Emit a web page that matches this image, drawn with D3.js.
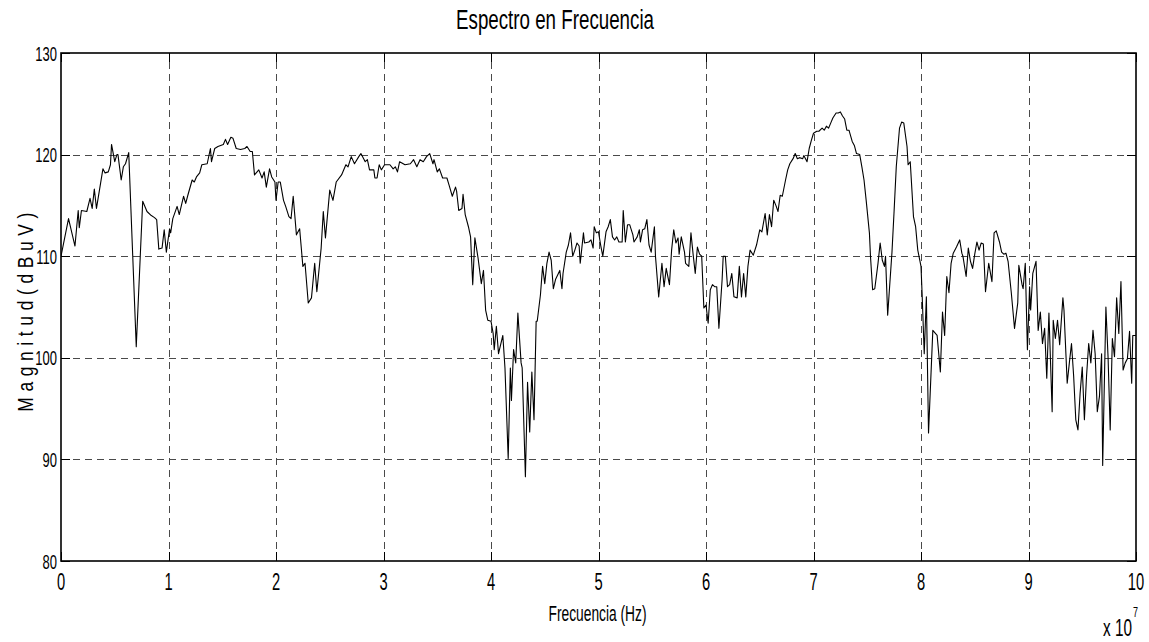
<!DOCTYPE html>
<html>
<head>
<meta charset="utf-8">
<script src="https://cdn.jsdelivr.net/npm/d3@7"></script>
<style>
  body { margin: 0; background: #fff; }
  svg { display: block; }
  text { font-family: "Liberation Sans", Arial, sans-serif; fill: #000; }
</style>
</head>
<body>
<svg id="chart" width="1149" height="642"></svg>
<script>
// Measured spectrum: frequency in MHz and magnitude in dBuV
const freqMHz = [
  0,0.7,1.3,1.6,1.7,1.9,2.4,2.7,2.9,3.1,
  3.3,3.9,4.1,4.4,4.6,4.7,5.0,5.2,5.3,5.6,
  5.8,6.0,6.3,7.0,7.6,8.0,8.4,8.7,8.9,9.1,
  9.4,9.6,9.8,10.1,10.2,10.4,10.8,11.0,11.4,11.6,
  11.8,12.2,12.4,12.6,12.9,13.1,13.6,13.9,14.0,14.3,
  14.6,15.1,15.3,15.5,15.8,16.0,16.3,16.7,17.1,17.3,
  17.6,17.8,18.0,18.4,18.7,18.9,19.1,19.4,19.6,19.9,
  20.0,20.2,20.4,20.7,20.9,21.2,21.4,21.6,21.9,22.2,
  22.5,22.7,23.0,23.3,23.6,23.8,24.2,24.4,24.6,25.0,
  25.3,25.6,26.1,26.5,26.7,27.0,27.3,27.7,27.9,28.3,
  28.5,28.7,29.1,29.2,29.4,29.6,29.8,30.1,30.6,30.9,
  31.1,31.3,31.5,32.0,32.5,32.8,33.1,33.4,33.7,34.0,
  34.3,34.6,34.7,35.0,35.2,35.5,35.9,36.1,36.4,36.7,
  36.8,37.0,37.3,37.4,37.6,37.9,38.1,38.3,38.5,38.8,
  39.1,39.3,39.5,39.7,40.0,40.2,40.3,40.5,40.7,41.1,
  41.3,41.6,41.8,41.9,42.1,42.3,42.5,42.8,42.9,43.2,
  43.4,43.6,43.8,44.0,44.2,44.3,44.6,44.8,45.0,45.2,
  45.4,45.6,45.8,46.0,46.4,46.6,46.7,47.0,47.2,47.4,
  47.6,47.8,48.0,48.2,48.3,48.6,48.7,49.1,49.3,49.5,
  49.6,49.8,50.0,50.2,50.4,50.7,50.9,51.1,51.3,51.5,
  51.7,51.9,52.2,52.3,52.5,52.7,52.9,53.2,53.3,53.6,
  53.8,53.9,54.1,54.3,54.5,54.7,54.9,55.2,55.3,55.6,
  55.9,56.1,56.3,56.6,56.8,57.0,57.2,57.4,57.5,57.7,
  58.0,58.1,58.4,58.6,58.8,59.0,59.2,59.4,59.6,59.8,
  60.0,60.2,60.4,60.6,60.8,61.0,61.2,61.5,61.6,61.8,
  62.0,62.2,62.4,62.6,62.9,63.1,63.3,63.5,63.7,63.9,
  64.1,64.4,64.7,65.0,65.2,65.5,65.7,65.9,66.1,66.3,
  66.5,66.7,66.9,67.1,67.4,67.6,67.8,68.1,68.3,68.5,
  68.7,69.0,69.1,69.4,69.6,69.8,70.0,70.3,70.5,70.8,
  71.0,71.2,71.4,71.6,71.8,72.1,72.3,72.5,72.7,72.9,
  73.1,73.3,73.6,73.8,74.0,74.3,74.5,74.7,74.9,75.2,
  75.3,75.5,75.7,76.0,76.2,76.4,76.6,76.7,76.9,77.3,
  77.5,77.7,78.0,78.2,78.4,78.7,78.8,79.0,79.3,79.5,
  79.7,80.0,80.1,80.3,80.5,80.7,81.1,81.5,81.8,82.0,
  82.2,82.4,82.6,82.8,83.0,83.3,83.6,83.8,83.9,84.2,
  84.4,84.6,84.8,85.0,85.2,85.4,85.6,85.8,86.0,86.3,
  86.6,86.8,87.0,87.3,87.5,87.7,87.9,88.1,88.4,88.7,
  89.0,89.1,89.4,89.5,89.7,89.9,90.1,90.2,90.4,90.7,
  90.9,91.1,91.3,91.5,91.7,91.9,92.2,92.3,92.5,92.7,
  92.9,93.2,93.3,93.6,93.8,94.0,94.2,94.4,94.6,94.8,
  95.0,95.2,95.4,95.6,95.8,96.0,96.2,96.4,96.6,96.8,
  96.9,97.2,97.4,97.6,97.8,98.0,98.2,98.4,98.6,98.8,
  99.0,99.2,99.4,99.6,99.7,100.0
];

const magnitudeDbuV = [
  110.0,113.7,111.0,114.5,112.8,114.5,114.4,115.7,114.7,116.6,
  114.7,118.6,118.2,118.3,119.0,121.0,119.3,120.0,120.0,117.5,
  118.8,119.1,120.2,101.1,115.4,114.4,114.0,113.8,113.6,110.7,
  110.8,112.6,110.4,112.7,112.3,113.7,114.9,114.1,115.9,115.2,
  116.0,117.5,117.3,117.8,118.2,119.0,119.1,120.6,119.3,120.6,
  120.8,121.0,121.5,121.0,121.7,121.6,120.6,120.5,120.6,120.8,
  120.3,120.3,118.0,118.5,117.7,118.3,116.8,118.6,117.8,117.3,
  115.5,117.3,117.3,115.5,114.9,113.9,113.7,115.9,112.1,112.7,
  109.0,109.3,105.4,105.9,109.3,106.5,110.8,114.4,111.8,116.5,
  115.5,117.3,118.0,119.0,118.8,119.8,119.1,119.8,120.1,119.3,
  119.5,118.5,118.5,117.7,117.7,119.0,118.5,119.0,119.0,118.6,
  118.8,118.3,119.3,119.0,119.1,119.5,118.8,119.5,119.3,119.8,
  120.1,119.1,119.5,118.3,118.6,117.7,117.7,117.0,115.9,116.8,
  116.4,114.5,114.7,116.1,114.1,112.9,111.9,107.2,111.8,109.8,
  107.3,108.6,104.7,103.7,103.6,102.4,100.8,103.1,100.4,102.2,
  99.0,90.1,99.0,95.8,100.8,99.5,104.4,99.5,99.0,88.3,
  97.6,92.7,98.6,93.9,103.6,103.6,106.2,109.0,107.3,109.3,
  110.4,109.6,106.8,107.7,108.6,106.8,108.3,110.4,111.1,112.3,
  110.0,110.6,111.3,111.0,109.3,112.3,111.3,111.4,111.6,110.8,
  112.9,112.3,112.4,111.1,110.0,112.4,112.9,113.6,111.9,111.6,
  111.9,111.4,111.4,114.5,111.4,113.1,113.1,112.1,111.4,111.9,
  112.6,111.4,112.6,112.7,113.6,111.1,110.4,112.9,110.0,106.0,
  109.3,107.0,108.8,107.2,110.6,112.6,111.3,111.8,110.2,111.9,
  110.4,109.3,109.0,112.3,110.2,108.3,110.9,110.2,110.0,104.9,
  105.2,103.4,106.7,107.2,107.0,107.0,102.9,107.7,110.0,110.0,
  107.0,107.2,108.3,106.0,105.9,109.0,106.0,108.3,106.0,109.0,
  110.6,110.1,111.1,112.6,112.4,114.2,112.1,114.1,112.9,115.5,
  115.0,114.4,116.0,115.9,117.5,118.5,119.1,119.6,120.1,119.6,
  119.7,119.6,119.9,119.3,120.6,121.4,122.1,122.3,122.3,122.6,
  122.4,122.8,122.6,123.1,123.6,124.1,124.1,124.2,123.8,123.5,
  122.4,122.4,121.3,120.9,120.1,120.0,118.8,117.5,115.5,112.3,
  110.0,106.7,106.8,109.3,111.3,109.6,109.0,110.0,104.2,110.4,
  114.5,118.8,122.6,123.2,123.1,120.8,119.0,119.3,113.9,112.9,
  110.6,109.0,106.4,100.4,106.0,92.6,102.7,102.2,98.6,104.5,
  102.2,108.0,106.4,109.3,110.3,110.9,111.6,110.3,110.0,108.0,
  110.8,109.5,108.8,110.2,111.4,110.6,111.3,111.2,106.5,109.3,
  107.5,112.3,112.5,111.4,110.4,110.2,110.3,109.5,106.4,102.9,
  105.4,109.1,107.2,106.8,109.3,100.8,107.0,104.7,108.3,109.5,
  102.7,104.5,101.4,102.9,98.0,104.4,94.7,103.7,101.9,103.7,
  101.3,105.9,104.7,97.5,99.5,101.4,98.2,93.9,92.9,96.5,
  99.1,93.9,98.2,101.4,99.5,102.7,100.4,94.7,96.2,100.4,
  89.4,105.0,100.1,92.9,101.9,100.1,105.9,102.4,107.5,98.8,
  99.5,99.9,102.6,97.5,102.2,102.2
];

// Axis ticks (x in MHz, labelled in units of 10^7 Hz)
const xTickValues = [0, 10, 20, 30, 40, 50, 60, 70, 80, 90, 100];
const xTickLabels = ["0", "1", "2", "3", "4", "5", "6", "7", "8", "9", "10"];
const yTickValues = [80, 90, 100, 110, 120, 130];
const yTickLabels = ["80", "90", "100", "110", "120", "130"];

const titleText = "Espectro en Frecuencia";
const xLabelText = "Frecuencia (Hz)";
const yLabelText = "M a g n i t u d  ( d B u V )";
const xExponentBase = "x 10";
const xExponent = "7";

const W = 1149, H = 642;
const margin = { top: 53, right: 13, bottom: 81, left: 61 };
const innerW = W - margin.left - margin.right;
const innerH = H - margin.top - margin.bottom;

const svg = d3.select("#chart");

const x = d3.scaleLinear().domain([0, 100]).range([margin.left, W - margin.right]);
const y = d3.scaleLinear().domain([80, 130]).range([H - margin.bottom, margin.top]);

// Condensed text: font size sets the glyph height, horizontal scale sets the width.
// With `spread`, glyph scale is fixed and letter spacing fills the target width.
const CAP = 0.716;
function condensedText(str, opts) {
  const fs = opts.cap / CAP;
  const t = svg.append("text")
    .attr("font-size", fs)
    .attr("text-anchor", opts.anchor || "start")
    .text(str);
  let sx = opts.sx || 1;
  const natural = t.node().getComputedTextLength();
  if (opts.width && opts.spread) {
    const ls = (opts.width / sx - natural) / str.length;
    t.attr("letter-spacing", ls);
  } else if (opts.width) {
    sx = opts.width / natural;
  }
  const rot = opts.rotate ? ` rotate(${opts.rotate})` : "";
  t.attr("transform", `translate(${opts.x},${opts.y})${rot} scale(${sx},1)`);
  return t;
}

// Dashed grid on interior ticks
const gridX = xTickValues.filter(v => v > 0 && v < 100);
const gridY = yTickValues.filter(v => v > 80 && v < 130);

const grid = svg.append("g").attr("class", "grid");
grid.append("g")
  .attr("transform", `translate(0,${H - margin.bottom})`)
  .call(d3.axisBottom(x).tickValues(gridX).tickSize(-innerH).tickFormat(""))
  .call(g => g.select(".domain").remove());
grid.append("g")
  .attr("transform", `translate(${margin.left},0)`)
  .call(d3.axisLeft(y).tickValues(gridY).tickSize(-innerW).tickFormat(""))
  .call(g => g.select(".domain").remove());
grid.selectAll("line")
  .attr("stroke", "#4a4a4a")
  .attr("stroke-width", 1)
  .attr("stroke-dasharray", "7,5")
  .attr("shape-rendering", "crispEdges");

// Spectrum trace
svg.append("clipPath").attr("id", "plotClip")
  .append("rect")
  .attr("x", margin.left).attr("y", margin.top)
  .attr("width", innerW).attr("height", innerH);

const points = freqMHz.map((f, i) => [f, magnitudeDbuV[i]]);
const line = d3.line().x(d => x(d[0])).y(d => y(d[1]));

svg.append("path")
  .datum(points)
  .attr("clip-path", "url(#plotClip)")
  .attr("fill", "none")
  .attr("stroke", "#000")
  .attr("stroke-width", 1.1)
  .attr("stroke-linejoin", "round")
  .attr("d", line);

// Inward tick marks on all four sides
const TICK = 9;
const tickAxes = [
  { axis: d3.axisBottom(x).tickValues(xTickValues), t: `translate(0,${H - margin.bottom})` },
  { axis: d3.axisTop(x).tickValues(xTickValues), t: `translate(0,${margin.top})` },
  { axis: d3.axisLeft(y).tickValues(yTickValues), t: `translate(${margin.left},0)` },
  { axis: d3.axisRight(y).tickValues(yTickValues), t: `translate(${W - margin.right},0)` }
];
tickAxes.forEach(a => {
  svg.append("g")
    .attr("transform", a.t)
    .call(a.axis.tickSize(-TICK).tickSizeOuter(0).tickFormat(""))
    .call(g => g.select(".domain").remove())
    .selectAll("line")
    .attr("stroke", "#000")
    .attr("stroke-width", 1)
    .attr("shape-rendering", "crispEdges");
});

// Plot frame
svg.append("rect")
  .attr("x", margin.left).attr("y", margin.top)
  .attr("width", innerW).attr("height", innerH)
  .attr("fill", "none")
  .attr("stroke", "#000")
  .attr("stroke-width", 1.6);

// Tick labels
const digitSx = 0.62;
xTickValues.forEach((v, i) => {
  condensedText(xTickLabels[i], { x: x(v), y: 590, cap: 17, sx: digitSx, anchor: "middle" });
});
yTickValues.forEach((v, i) => {
  condensedText(yTickLabels[i], { x: 57, y: y(v) + 7.5, cap: 15, sx: digitSx, anchor: "end" });
});

// Title and axis labels
condensedText(titleText, { x: 555, y: 29, cap: 20, width: 198, anchor: "middle" });
condensedText(xLabelText, { x: 597.5, y: 621, cap: 16, width: 98, anchor: "middle" });
condensedText(yLabelText, { x: 33, y: 312, cap: 16, sx: 0.78, width: 200, spread: true, anchor: "middle", rotate: -90 });

// Axis scale factor
condensedText(xExponentBase, { x: 1103, y: 636, cap: 17, width: 29, anchor: "start" });
condensedText(xExponent, { x: 1133, y: 617, cap: 10, width: 5, anchor: "start" });
</script>
</body>
</html>
